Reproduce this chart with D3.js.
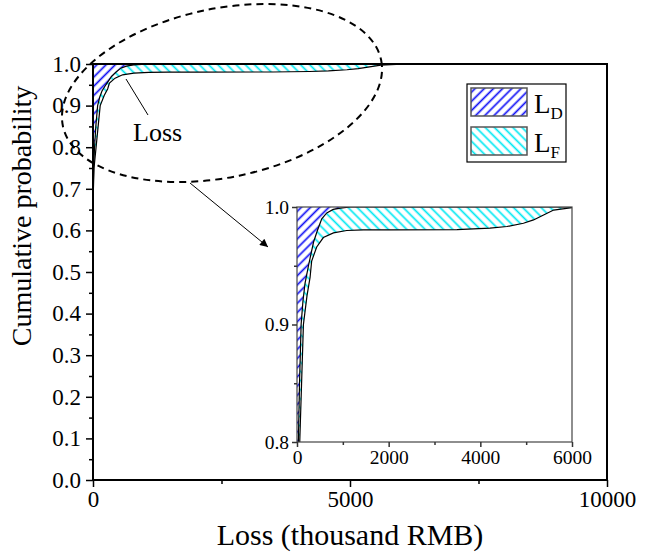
<!DOCTYPE html>
<html>
<head>
<meta charset="utf-8">
<script src="https://cdn.jsdelivr.net/npm/d3@7"></script>
<style>
body { margin: 0; background: #fff; }
svg, svg text { font-family: "Liberation Serif", "Times New Roman", serif; }
</style>
</head>
<body>
<svg id="chart" width="649" height="552"></svg>
<script>
// cumulative probability curves (loss in thousand RMB)
const lossD = [0, 5, 12, 30, 55, 90, 130, 175, 250, 360, 445, 540, 650, 790, 950, 1160, 10000];
const probD = [0.64, 0.70, 0.75, 0.80, 0.85, 0.90, 0.92, 0.935, 0.95, 0.97, 0.98, 0.99, 0.995, 0.998, 0.999, 1.0, 1.0];

const lossF = [0, 8, 20, 60, 100, 140, 220, 285, 320, 430, 575, 795, 1085, 1450, 2030, 3490, 4210, 4580, 4940, 5160, 5380, 5600, 6000, 10000];
const probF = [0.64, 0.70, 0.75, 0.80, 0.85, 0.90, 0.925, 0.94, 0.954, 0.966, 0.974, 0.978, 0.980, 0.9805, 0.9806, 0.9808, 0.982, 0.9834, 0.9862, 0.989, 0.9932, 0.9974, 0.9994, 1.0];

const legendNames = ["D", "F"];

const xTicks = [0, 5000, 10000], xMinor = [2500, 7500];
const yTicks = d3.range(0, 11).map(i => i / 10), yMinor = d3.range(0, 10).map(i => i / 10 + 0.05);
const xTicksIn = [0, 2000, 4000, 6000], xMinorIn = [1000, 3000, 5000];
const yTicksIn = [0.8, 0.9, 1.0], yMinorIn = [0.85, 0.95];

const serif = "Liberation Serif";

const dataD = lossD.map((v, i) => [v, probD[i]]);
const dataF = lossF.map((v, i) => [v, probF[i]]);

const svg = d3.select("#chart");
const defs = svg.append("defs");

function hatch(id, color, angle, size) {
  const p = defs.append("pattern")
    .attr("id", id)
    .attr("patternUnits", "userSpaceOnUse")
    .attr("width", size).attr("height", size)
    .attr("patternTransform", "rotate(" + angle + ")");
  p.append("line")
    .attr("x1", size / 2).attr("y1", 0)
    .attr("x2", size / 2).attr("y2", size)
    .attr("stroke", color).attr("stroke-width", 1.7);
}
hatch("hatchD", "#1010f5", 45, 6.5);
hatch("hatchF", "#00e8f2", -45, 6.5);

// draws both regions and curves into g with scales sx, sy
function drawCurves(g, sx, sy) {
  const area = d3.area().x(d => sx(d[0])).y0(sy(1)).y1(d => sy(d[1]));
  const line = d3.line().x(d => sx(d[0])).y(d => sy(d[1]));

  g.append("path").datum(dataD)
    .attr("d", area)
    .attr("fill", "url(#hatchD)");

  g.append("path").datum(dataD.concat(dataF.slice().reverse()))
    .attr("d", d => line(d) + "Z")
    .attr("fill", "url(#hatchF)");

  g.append("path").datum(dataF)
    .attr("d", line).attr("fill", "none")
    .attr("stroke", "#000").attr("stroke-width", 1.2);
  g.append("path").datum(dataD)
    .attr("d", line).attr("fill", "none")
    .attr("stroke", "#000").attr("stroke-width", 1.2);
}

function styleAxes(sel, size, color) {
  sel.selectAll(".domain").remove();
  sel.selectAll(".tick line").attr("stroke", color).attr("stroke-width", 1.5);
  sel.selectAll(".tick text")
    .attr("font-family", serif)
    .attr("font-size", size)
    .attr("fill", "#000");
}

function axisGroup(parent) {
  return parent.append("g").attr("font-family", serif);
}

// ---------- main plot ----------
const margin = { top: 64, left: 93 },
      width = 514,
      height = 416;

const x = d3.scaleLinear().domain([0, 10000]).range([0, width]);
const y = d3.scaleLinear().domain([0, 1]).range([height, 0]);

const g = svg.append("g")
  .attr("transform", "translate(" + margin.left + "," + margin.top + ")");

drawCurves(g, x, y);

// frame
g.append("rect")
  .attr("width", width).attr("height", height)
  .attr("fill", "none").attr("stroke", "#000").attr("stroke-width", 2);

axisGroup(g)
  .attr("transform", "translate(0," + height + ")")
  .call(d3.axisBottom(x).tickValues(xMinor).tickSize(4).tickFormat(""));
axisGroup(g)
  .attr("transform", "translate(0," + height + ")")
  .call(d3.axisBottom(x).tickValues(xTicks).tickSize(7).tickPadding(4).tickFormat(d3.format("d")));
axisGroup(g)
  .call(d3.axisLeft(y).tickValues(yMinor).tickSize(4).tickFormat(""));
axisGroup(g)
  .call(d3.axisLeft(y).tickValues(yTicks).tickSize(7).tickPadding(5).tickFormat(d3.format(".1f")));

styleAxes(g, 23, "#000");

svg.append("text")
  .attr("x", margin.left + width / 2).attr("y", 545)
  .attr("text-anchor", "middle").attr("font-size", 30)
  .text("Loss (thousand RMB)");

svg.append("text")
  .attr("transform", "translate(31,216) rotate(-90)")
  .attr("text-anchor", "middle").attr("font-size", 28)
  .text("Cumulative probability");

// ---------- inset ----------
const inset = { left: 297, top: 207, width: 275, height: 235 };
const xi = d3.scaleLinear().domain([0, 6000]).range([0, inset.width]);
const yi = d3.scaleLinear().domain([0.8, 1]).range([inset.height, 0]);

defs.append("clipPath").attr("id", "clipIn")
  .append("rect").attr("width", inset.width).attr("height", inset.height);

const gi = svg.append("g")
  .attr("transform", "translate(" + inset.left + "," + inset.top + ")");

gi.append("rect").attr("width", inset.width).attr("height", inset.height).attr("fill", "#fff");
drawCurves(gi.append("g").attr("clip-path", "url(#clipIn)"), xi, yi);

gi.append("rect")
  .attr("width", inset.width).attr("height", inset.height)
  .attr("fill", "none").attr("stroke", "#444").attr("stroke-width", 1.2);

axisGroup(gi)
  .attr("transform", "translate(0," + inset.height + ")")
  .call(d3.axisBottom(xi).tickValues(xMinorIn).tickSize(3).tickFormat(""));
axisGroup(gi)
  .attr("transform", "translate(0," + inset.height + ")")
  .call(d3.axisBottom(xi).tickValues(xTicksIn).tickSize(5).tickPadding(3).tickFormat(d3.format("d")));
axisGroup(gi)
  .call(d3.axisLeft(yi).tickValues(yMinorIn).tickSize(3).tickFormat(""));
axisGroup(gi)
  .call(d3.axisLeft(yi).tickValues(yTicksIn).tickSize(5).tickPadding(3).tickFormat(d3.format(".1f")));

styleAxes(gi, 19.5, "#333");

// ---------- legend ----------
const lg = svg.append("g").attr("transform", "translate(467,84)");
lg.append("rect").attr("width", 99).attr("height", 78)
  .attr("fill", "#fff").attr("stroke", "#000").attr("stroke-width", 1.2);
legendNames.forEach((name, i) => {
  const row = lg.append("g").attr("transform", "translate(4," + (4 + i * 39) + ")");
  row.append("rect").attr("width", 56).attr("height", 28)
    .attr("fill", i === 0 ? "url(#hatchD)" : "url(#hatchF)")
    .attr("stroke", "#555").attr("stroke-width", 1.5);
  const t = row.append("text").attr("x", 63).attr("y", 25).attr("font-size", 27).text("L");
  t.append("tspan").attr("dy", 6).attr("font-size", 17).text(name);
});

// ---------- annotations ----------
svg.append("ellipse")
  .attr("cx", 222).attr("cy", 93).attr("rx", 162.5).attr("ry", 84.4)
  .attr("transform", "rotate(-11.7,222,93)")
  .attr("fill", "none").attr("stroke", "#000")
  .attr("stroke-width", 2).attr("stroke-dasharray", "7,5");

defs.append("marker").attr("id", "arrow")
  .attr("viewBox", "0 0 10 10").attr("refX", 10).attr("refY", 5)
  .attr("markerWidth", 12).attr("markerHeight", 8)
  .attr("markerUnits", "userSpaceOnUse")
  .attr("orient", "auto")
  .append("path").attr("d", "M0,0L10,5L0,10Z").attr("fill", "#000");

svg.append("line")
  .attr("x1", 190).attr("y1", 183).attr("x2", 268).attr("y2", 247)
  .attr("stroke", "#000").attr("stroke-width", 1)
  .attr("marker-end", "url(#arrow)");

svg.append("line")
  .attr("x1", 126).attr("y1", 79).attr("x2", 148).attr("y2", 115)
  .attr("stroke", "#000").attr("stroke-width", 1);

svg.append("text")
  .attr("x", 133).attr("y", 141).attr("font-size", 26)
  .text("Loss");
</script>
</body>
</html>
